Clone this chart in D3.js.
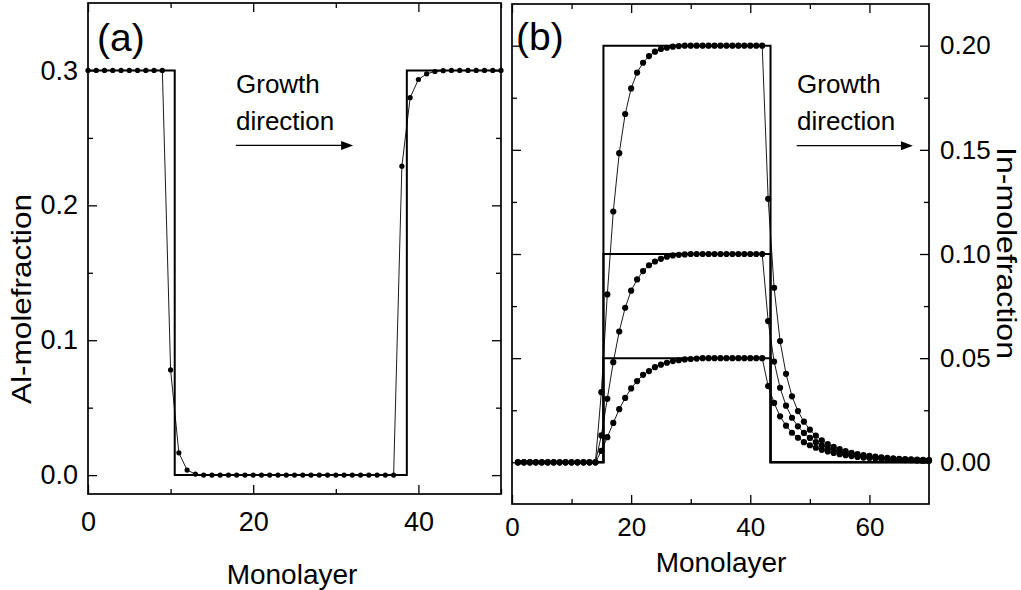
<!DOCTYPE html>
<html>
<head>
<meta charset="utf-8">
<script src="https://cdn.jsdelivr.net/npm/d3@7"></script>
<style>
  body { margin: 0; background: #fff; }
  text { font-family: "Liberation Sans", Arial, sans-serif; fill: #000; }
</style>
</head>
<body>
<script>
// ---------- data ----------
// (a) Al mole fraction, one value per monolayer starting at monolayer 0
const alFraction = [
  0.3, 0.3, 0.3, 0.3, 0.3, 0.3, 0.3, 0.3, 0.3, 0.3,
  0.078, 0.0165, 0.0037, 0.0008,
  0, 0, 0, 0, 0, 0, 0, 0, 0, 0, 0, 0, 0, 0, 0, 0, 0, 0, 0, 0, 0, 0, 0, 0,
  0.229, 0.2798, 0.2933, 0.2975, 0.2992, 0.2998,
  0.3, 0.3, 0.3, 0.3, 0.3, 0.3, 0.3
];
const alStart = 0;
// nominal (abrupt) profile: level before, inside and after the well
const alNominal = [0.3, 0, 0.3];
const alInterfaces = [10.5, 38.6];

// (b) In mole fraction, one value per monolayer starting at monolayer 1
const inHigh = [
  0, 0, 0, 0, 0, 0, 0, 0, 0, 0, 0, 0, 0, 0,
  0.0337, 0.0806, 0.1204, 0.1484, 0.1672, 0.1795, 0.1871, 0.1918, 0.195, 0.1971,
  0.1984, 0.199, 0.1995, 0.1998,
  0.2, 0.2, 0.2, 0.2, 0.2, 0.2, 0.2, 0.2, 0.2, 0.2, 0.2, 0.2, 0.2, 0.2,
  0.1265, 0.0838, 0.0582, 0.0425, 0.0317, 0.0246, 0.0195, 0.0157, 0.0128, 0.0106,
  0.0088, 0.0074, 0.0063, 0.0054, 0.0046, 0.0040, 0.0035, 0.0031, 0.0027, 0.0024,
  0.0021, 0.0019, 0.0017, 0.0016, 0.0014, 0.0013, 0.0012, 0.0011
];
const inMid = [
  0, 0, 0, 0, 0, 0, 0, 0, 0, 0, 0, 0, 0, 0,
  0.0129, 0.0305, 0.0481, 0.0628, 0.0742, 0.0824, 0.0878, 0.0918, 0.0946, 0.0964,
  0.0977, 0.0987, 0.0993, 0.0996, 0.0998,
  0.1, 0.1, 0.1, 0.1, 0.1, 0.1, 0.1, 0.1, 0.1, 0.1, 0.1, 0.1, 0.1,
  0.0678, 0.0484, 0.0358, 0.0272, 0.0214, 0.0173, 0.0141, 0.0117, 0.0097, 0.0081,
  0.0068, 0.0058, 0.0050, 0.0043, 0.0037, 0.0032, 0.0028, 0.0025, 0.0022, 0.0020,
  0.0018, 0.0016, 0.0014, 0.0013, 0.0012, 0.0011, 0.0010, 0.0009
];
const inLow = [
  0, 0, 0, 0, 0, 0, 0, 0, 0, 0, 0, 0, 0, 0,
  0.0055, 0.0121, 0.0189, 0.0255, 0.0309, 0.0355, 0.0390, 0.0420, 0.0438, 0.0457,
  0.0469, 0.0478, 0.0486, 0.0490, 0.0494, 0.0496, 0.0498,
  0.05, 0.05, 0.05, 0.05, 0.05, 0.05, 0.05, 0.05, 0.05, 0.05, 0.05,
  0.0366, 0.0285, 0.0221, 0.0176, 0.0142, 0.0118, 0.0097, 0.0082, 0.0070, 0.0060,
  0.0052, 0.0045, 0.0039, 0.0034, 0.0030, 0.0026, 0.0023, 0.0021, 0.0019, 0.0017,
  0.0015, 0.0014, 0.0012, 0.0011, 0.0010, 0.0009, 0.0009, 0.0008
];
const inStart = 1;
const inNominal = [0.2, 0.1, 0.05];
const inInterfaces = [15.35, 43.4];

// axis ticks
const alTicks = [0, 0.1, 0.2, 0.3];
const alMinorTicks = [0.05, 0.15, 0.25];
const monoTicksA = [0, 20, 40];
const monoMinorA = [10, 30, 50];
const inTicks = [0, 0.05, 0.1, 0.15, 0.2];
const inMinorTicks = [0.025, 0.075, 0.125, 0.175];
const monoTicksB = [0, 20, 40, 60];
const monoMinorB = [10, 30, 50];

// ---------- layout ----------
const W = 1021, H = 590;
const svg = d3.select("body").append("svg").attr("width", W).attr("height", H);

const xA = d3.scaleLinear().domain([0, 50]).range([88, 501]);
const yA = d3.scaleLinear().domain([-0.014, 0.35]).range([494, 3]);
const xB = d3.scaleLinear().domain([0, 70]).range([512, 929]);
const yB = d3.scaleLinear().domain([-0.02, 0.22]).range([504, 4]);

const TITLE_FONT = 28;
const MAJOR = 9, MINOR = 5;

function styleAxis(g, labelled, fontSize) {
  g.select(".domain").remove();
  g.selectAll(".tick line").attr("stroke", "#000").attr("stroke-width", 1.3);
  g.selectAll(".tick text").attr("font-size", fontSize)
    .attr("font-family", "'Liberation Sans', Arial, sans-serif").attr("fill", "#000");
  if (!labelled) g.selectAll(".tick text").remove();
}

function drawFrame(x, y, o) {
  const [x0, x1] = x.range();
  const [y1, y0] = y.range();
  const g = svg.append("g");
  const fs = o.font;

  // bottom axis (labelled) + mirrored top ticks
  g.append("g").attr("transform", `translate(0,${y1})`)
    .call(d3.axisBottom(x).tickValues(o.xTicks).tickFormat(d3.format("d"))
      .tickSizeInner(-MAJOR).tickSizeOuter(0).tickPadding(o.xPad))
    .call(s => styleAxis(s, true, fs));
  g.append("g").attr("transform", `translate(0,${y1})`)
    .call(d3.axisBottom(x).tickValues(o.xMinor).tickSizeInner(-MINOR).tickSizeOuter(0))
    .call(s => styleAxis(s, false, fs));
  g.append("g").attr("transform", `translate(0,${y0})`)
    .call(d3.axisTop(x).tickValues(o.xTicks).tickSizeInner(-MAJOR).tickSizeOuter(0))
    .call(s => styleAxis(s, false, fs));
  g.append("g").attr("transform", `translate(0,${y0})`)
    .call(d3.axisTop(x).tickValues(o.xMinor).tickSizeInner(-MINOR).tickSizeOuter(0))
    .call(s => styleAxis(s, false, fs));

  // labelled vertical axis on one side, mirrored ticks on the other
  const labelSide = o.ySide === "left" ? d3.axisLeft : d3.axisRight;
  const otherSide = o.ySide === "left" ? d3.axisRight : d3.axisLeft;
  const lx = o.ySide === "left" ? x0 : x1;
  const ox = o.ySide === "left" ? x1 : x0;
  g.append("g").attr("transform", `translate(${lx},0)`)
    .call(labelSide(y).tickValues(o.yTicks).tickFormat(d3.format(o.yFmt))
      .tickSizeInner(-MAJOR).tickSizeOuter(0).tickPadding(o.yPad))
    .call(s => styleAxis(s, true, fs));
  g.append("g").attr("transform", `translate(${lx},0)`)
    .call(labelSide(y).tickValues(o.yMinor).tickSizeInner(-MINOR).tickSizeOuter(0))
    .call(s => styleAxis(s, false, fs));
  g.append("g").attr("transform", `translate(${ox},0)`)
    .call(otherSide(y).tickValues(o.yTicks).tickSizeInner(-MAJOR).tickSizeOuter(0))
    .call(s => styleAxis(s, false, fs));
  g.append("g").attr("transform", `translate(${ox},0)`)
    .call(otherSide(y).tickValues(o.yMinor).tickSizeInner(-MINOR).tickSizeOuter(0))
    .call(s => styleAxis(s, false, fs));

  g.append("rect").attr("x", x0).attr("y", y0)
    .attr("width", x1 - x0).attr("height", y1 - y0)
    .attr("fill", "none").attr("stroke", "#000").attr("stroke-width", 1.7);
}

// nominal square profile through the two interfaces
function stepPoints(levelOut, levelIn, levelAfter, edges, xmin, xmax) {
  return [[xmin, levelOut], [edges[0], levelOut], [edges[0], levelIn],
          [edges[1], levelIn], [edges[1], levelAfter], [xmax, levelAfter]];
}

function drawProfile(x, y, values, start, r) {
  const pts = values.map((v, i) => [start + i, v]);
  const line = d3.line().x(d => x(d[0])).y(d => y(d[1]));
  svg.append("path").attr("d", line(pts))
    .attr("fill", "none").attr("stroke", "#000").attr("stroke-width", 0.9);
  svg.append("g").selectAll("circle").data(pts).join("circle")
    .attr("cx", d => x(d[0])).attr("cy", d => y(d[1])).attr("r", r).attr("fill", "#000");
}

function drawStep(x, y, pts) {
  const line = d3.line().x(d => x(d[0])).y(d => y(d[1]));
  svg.append("path").attr("d", line(pts))
    .attr("fill", "none").attr("stroke", "#000").attr("stroke-width", 2);
}

function arrow(x, y, xFrom, xTo, yv) {
  const px0 = x(xFrom), px1 = x(xTo), py = y(yv);
  svg.append("line").attr("x1", px0).attr("x2", px1 - 8).attr("y1", py).attr("y2", py)
    .attr("stroke", "#000").attr("stroke-width", 1.3);
  svg.append("path")
    .attr("d", `M${px1},${py} L${px1 - 12},${py - 4.5} L${px1 - 12},${py + 4.5} Z`)
    .attr("fill", "#000");
}

// rotated axis title stretched to a given length along its baseline
function sideTitle(tx, ty, angle, label, length) {
  svg.append("text").attr("transform", `translate(${tx},${ty}) rotate(${angle})`)
    .attr("text-anchor", "middle").attr("font-size", TITLE_FONT)
    .attr("textLength", length).attr("lengthAdjust", "spacingAndGlyphs")
    .text(label);
}

// ---------- panel (a) ----------
drawFrame(xA, yA, {
  xTicks: monoTicksA, xMinor: monoMinorA, xPad: 18, font: 27,
  yTicks: alTicks, yMinor: alMinorTicks, yFmt: ".1f", ySide: "left", yPad: 10
});
drawStep(xA, yA, stepPoints(alNominal[0], alNominal[1], alNominal[2], alInterfaces, 0, 50));
drawProfile(xA, yA, alFraction, alStart, 2.6);

svg.append("text").attr("x", 97).attr("y", 51).attr("font-size", 39).text("(a)");
svg.append("text").attr("x", 236).attr("y", 93).attr("font-size", 26).text("Growth");
svg.append("text").attr("x", 236).attr("y", 130).attr("font-size", 26).text("direction");
arrow(xA, yA, 17.9, 32.1, 0.2444);

sideTitle(31, 299, -90, "Al-molefraction", 210);
svg.append("text").attr("x", 292).attr("y", 584)
  .attr("text-anchor", "middle").attr("font-size", TITLE_FONT).text("Monolayer");

// ---------- panel (b) ----------
drawFrame(xB, yB, {
  xTicks: monoTicksB, xMinor: monoMinorB, xPad: 14, font: 26,
  yTicks: inTicks, yMinor: inMinorTicks, yFmt: ".2f", ySide: "right", yPad: 11
});
inNominal.forEach(level => drawStep(xB, yB, stepPoints(0, level, 0, inInterfaces, inStart, 70)));
[inHigh, inMid, inLow].forEach(series => drawProfile(xB, yB, series, inStart, 3.1));

svg.append("text").attr("x", 516).attr("y", 50).attr("font-size", 39).text("(b)");
svg.append("text").attr("x", 797).attr("y", 93).attr("font-size", 26).text("Growth");
svg.append("text").attr("x", 797).attr("y", 130).attr("font-size", 26).text("direction");
arrow(xB, yB, 47.8, 67.3, 0.152);

sideTitle(997, 253, 90, "In-molefraction", 212);
svg.append("text").attr("x", 721).attr("y", 572)
  .attr("text-anchor", "middle").attr("font-size", TITLE_FONT).text("Monolayer");
</script>
</body>
</html>
